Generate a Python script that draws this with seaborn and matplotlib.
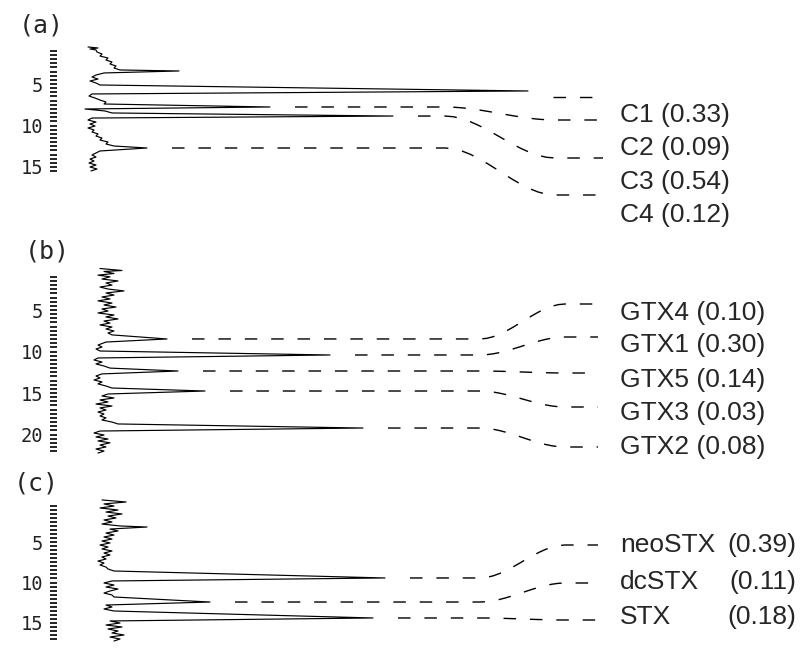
import numpy as np
import pandas as pd
import matplotlib
matplotlib.use("Agg")
import matplotlib.pyplot as plt
import seaborn as sns

# ---------------- chromatogram data (retention time in min, detector response) ----------------
# (a) C-toxin fraction
a_base_t = [0.54, 0.66, 0.78, 0.90, 1.14, 1.39, 1.63, 1.87, 2.11, 2.35, 2.59, 2.83, 3.07, 3.31,
            3.67, 3.92, 4.16, 4.40, 4.64, 4.88, 5.12, 6.20, 6.45, 6.69, 6.93, 7.17, 7.41, 8.01,
            8.25, 8.49, 9.10, 9.34, 9.58, 9.82, 10.06, 10.30, 10.54, 10.78, 11.02, 11.27, 11.51,
            11.75, 11.99, 12.23, 12.47, 13.07, 13.31, 13.55, 13.80, 14.04, 14.28, 14.52, 14.76,
            15.00, 15.24, 15.48]
a_base_r = [-4, 6, -2, 4, 5, 10, 8, 16, 14, 20, 18, 24, 22, 28, 12, 4, 0, 6, -2, 4, 8, 0, -3, 3,
            8, 14, 12, -7, 13, 20, 0, -4, 4, -2, 3, -4, 2, 0, 6, 4, 10, 8, 16, 14, 22, 8, 4, 0, 4,
            -2, 2, -3, 4, -2, 5, -1]
a_peak_t = [3.43, 5.84, 7.77, 8.86, 12.71]
a_peak_r = [87, 436, 178, 301, 55]
a_peak_names = ["", "C1", "C2", "C3", "C4"]
a_amounts = [None, 0.33, 0.09, 0.54, 0.12]

# (b) GTX fraction
b_base_t = [0.0, 0.24, 0.36, 0.6, 0.8, 1.0, 1.27, 1.5, 1.75, 2.0, 2.23, 2.47, 2.7, 2.95, 3.2,
            3.43, 3.67, 3.9, 4.16, 4.4, 4.64, 4.88, 5.12, 5.36, 5.6, 5.84, 6.08, 6.33, 6.57, 6.8,
            7.05, 7.29, 7.53, 7.77, 8.0, 8.86, 9.22, 9.46, 9.7, 9.94, 10.78, 11.02, 11.27, 11.5,
            11.75, 12.0, 12.7, 12.95, 13.19, 13.43, 13.67, 13.9, 14.16, 14.4, 15.12, 15.36, 15.6,
            15.84, 16.08, 16.33, 16.57, 16.8, 17.05, 17.29, 17.53, 17.77, 18.0, 18.25, 18.5,
            18.73, 19.58, 19.82, 20.06, 20.3, 20.54, 20.78, 21.0, 21.27, 21.5, 21.75, 22.0, 22.23]
b_base_r = [8, 30, 12, 22, 6, 18, 10, 26, 14, 20, 8, 16, 32, 14, 22, 10, 18, 6, 20, 12, 24, 10,
            16, 6, 22, 14, 26, 12, 18, 8, 20, 14, 22, 16, 20, 14, 6, 10, 4, 8, 6, 2, 10, 4, 12, 18,
            10, 4, 8, 2, 10, 6, 14, 20, 16, 10, 22, 8, 16, 4, 20, 8, 14, 6, 12, 8, 14, 10, 20, 26,
            8, 2, 12, 4, 16, 6, 18, 8, 14, 4, 12, 6]
b_peak_t = [8.49, 10.42, 12.35, 14.76, 19.22]
b_peak_r = [75, 238, 86, 113, 271]
b_peak_names = ["GTX4", "GTX1", "GTX5", "GTX3", "GTX2"]
b_amounts = [0.10, 0.30, 0.14, 0.03, 0.08]

# (c) STX fraction
c_base_t = [-0.19, 0.06, 0.3, 0.56, 0.8, 1.05, 1.3, 1.54, 1.79, 2.04, 2.28, 2.53, 2.78, 3.02,
            3.15, 3.4, 3.64, 3.89, 4.14, 4.38, 4.63, 4.88, 5.12, 5.37, 5.62, 5.86, 6.11, 6.36,
            6.6, 6.85, 7.1, 7.35, 7.6, 7.84, 8.09, 8.33, 8.58, 9.81, 10.06, 10.31, 10.56, 10.8,
            11.05, 11.3, 11.54, 11.79, 12.78, 13.02, 13.27, 13.52, 14.75, 15.0, 15.25, 15.49,
            15.74, 15.99, 16.23, 16.48, 16.73, 16.98, 17.22]
c_base_r = [10, 34, 12, 22, 8, 26, 14, 30, 16, 24, 12, 20, 10, 28, 55, 18, 26, 14, 22, 12, 20, 10,
            18, 8, 16, 10, 20, 12, 18, 10, 14, 6, 12, 8, 14, 16, 22, 20, 12, 22, 14, 26, 18, 12,
            20, 22, 14, 20, 12, 22, 18, 28, 14, 30, 16, 26, 20, 32, 18, 28, 22]
c_peak_t = [9.44, 12.41, 14.38]
c_peak_r = [293, 118, 281]
c_peak_names = ["neoSTX", "dcSTX", "STX"]
c_amounts = [0.39, 0.11, 0.18]

# ---------------- layout (figure pixels) ----------------
W, H = 802, 648
AX_LEFT = 57          # pixel column of the tick marks
R0_PX = 92            # pixel column of zero response
LABEL_X = 620

panels = [
    dict(tag="(a)", tag_xy=(41, 26), t5=84, ppm=8.3, top=40, bottom=225,
         ticks=(1, 15.5), majors=[5, 10, 15],
         lead_end=[97, 120, 158, 195], label_y=[115, 148, 182, 215],
         bend=(445, 555), end=603, split_value=False,
         base=(a_base_t, a_base_r), peaks=(a_peak_t, a_peak_r, a_peak_names, a_amounts)),
    dict(tag="(b)", tag_xy=(47, 251), t5=310, ppm=8.3, top=262, bottom=460,
         ticks=(1, 22), majors=[5, 10, 15, 20],
         lead_end=[304, 337, 373, 407, 447], label_y=[313, 345, 380, 413, 447],
         bend=(480, 565), end=598, split_value=False,
         base=(b_base_t, b_base_r), peaks=(b_peak_t, b_peak_r, b_peak_names, b_amounts)),
    dict(tag="(c)", tag_xy=(36, 484), t5=542, ppm=8.1, top=495, bottom=648,
         ticks=(0.5, 17), majors=[5, 10, 15],
         lead_end=[545, 583, 620], label_y=[545, 582, 617],
         bend=(480, 565), end=598, split_value=True,
         base=(c_base_t, c_base_r), peaks=(c_peak_t, c_peak_r, c_peak_names, c_amounts)),
]

sns.set_theme(style="white")
plt.rcParams["font.family"] = ["Liberation Sans", "DejaVu Sans"]

fig = plt.figure(figsize=(W / 100, H / 100), dpi=100)
fig.patch.set_facecolor("white")

mono = ["DejaVu Sans Mono", "DejaVu Sans"]

for p in panels:
    def px2t(y, p=p):
        return 5 + (y - p["t5"]) / p["ppm"]

    ax = fig.add_axes([AX_LEFT / W, 1 - p["bottom"] / H,
                       (W - AX_LEFT) / W, (p["bottom"] - p["top"]) / H])
    ax.set_facecolor("none")
    ax.set_xlim(AX_LEFT - R0_PX, W - R0_PX)
    ax.set_ylim(px2t(p["bottom"]), px2t(p["top"]))

    # trace: baseline samples merged with the peak apexes
    bt, br = p["base"]
    pt, pr, names, amounts = p["peaks"]
    df = pd.DataFrame({"t": list(bt) + list(pt), "r": list(br) + list(pr)}).sort_values("t")
    sns.lineplot(data=df, x="r", y="t", orient="y", sort=False, estimator=None,
                 color="black", lw=0.85, ax=ax)

    # dashed leaders from labelled peaks to their names
    b0 = p["bend"][0] - R0_PX
    b1 = p["bend"][1] - R0_PX
    xend = p["end"] - R0_PX
    k = 0
    for t_pk, r_pk, name, amt in zip(pt, pr, names, amounts):
        if not name:
            continue
        te = px2t(p["lead_end"][k])
        ty = px2t(p["label_y"][k])
        start = r_pk + 25
        if start >= b1 - 20:
            xs = [start, xend]
            ts = [te, te]
        else:
            s = np.linspace(0, 1, 14)
            xs = [start] + list(b0 + (b1 - b0) * s) + [xend]
            ts = [t_pk] + list(t_pk + (te - t_pk) * (3 * s ** 2 - 2 * s ** 3)) + [te]
        ax.plot(xs, ts, color="black", lw=1.0, dashes=(9, 10), solid_capstyle="butt")

        lx = LABEL_X - R0_PX
        if p["split_value"]:
            ax.text(lx, ty, name, ha="left", va="center", fontsize=19, clip_on=False)
            ax.text(796 - R0_PX, ty, f"({amt:.2f})", ha="right", va="center",
                    fontsize=19, clip_on=False)
        else:
            ax.text(lx, ty, f"{name} ({amt:.2f})", ha="left", va="center",
                    fontsize=19, clip_on=False)
        k += 1

    # retention-time scale
    t_lo, t_hi = p["ticks"]
    ax.set_yticks(p["majors"])
    ax.set_yticklabels([str(m) for m in p["majors"]], fontfamily=mono, fontsize=13.5)
    ax.set_yticks(np.arange(t_lo, t_hi + 0.01, 0.5), minor=True)
    ax.tick_params(axis="y", which="both", left=True, direction="out",
                   length=5, width=1.2, color="black", pad=5, labelcolor="#222222")
    ax.tick_params(axis="x", which="both", bottom=False, labelbottom=False)
    ax.set_xlabel("")
    ax.set_ylabel("")
    ax.grid(False)
    for sp in ax.spines.values():
        sp.set_visible(False)

    fig.text(p["tag_xy"][0] / W, 1 - p["tag_xy"][1] / H, p["tag"],
             ha="center", va="center", fontsize=18, fontfamily=mono)

fig.savefig("out.png", dpi=100, facecolor="white")
